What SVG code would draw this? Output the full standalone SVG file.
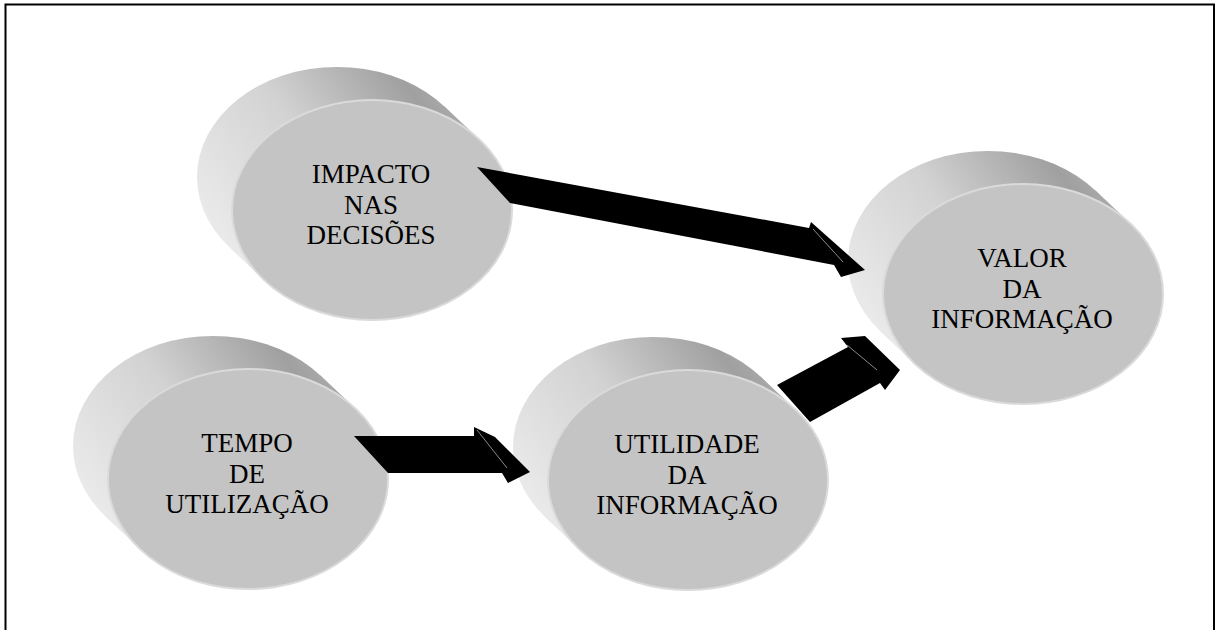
<svg xmlns="http://www.w3.org/2000/svg" width="1228" height="630" viewBox="0 0 1228 630">
<defs>
<linearGradient id="side" gradientUnits="userSpaceOnUse" x1="-150" y1="60" x2="110" y2="-130">
<stop offset="0" stop-color="#ededed"/>
<stop offset="0.45" stop-color="#d2d2d2"/>
<stop offset="0.8" stop-color="#a0a0a0"/>
<stop offset="1" stop-color="#b8b8b8"/>
</linearGradient>
<g id="cyl">
<ellipse cx="-35" cy="-33" rx="140" ry="110" fill="url(#side)"/>
<polygon points="107.5,-70.4 72.5,-103.4 -142.5,37.4 -107.5,70.4" fill="url(#side)"/>
<ellipse cx="0" cy="0" rx="140" ry="110" fill="#c4c4c4" stroke="#dadada" stroke-width="2"/>
</g>
</defs>
<style>
.lbl{font-size:27px;fill:#000;text-anchor:middle}
.arrow{fill:#000}
.hl{stroke:#8a8a8a;stroke-width:1;fill:none}
</style>
<path d="M5.5,630 V4.5 H1214 V630" fill="none" stroke="#000" stroke-width="2"/>
<g font-family="Liberation Serif, Times New Roman, serif">
<g id="node-impacto" transform="translate(372,210)">
<use href="#cyl"/>
<text class="lbl" x="-1" y="-27">IMPACTO</text>
<text class="lbl" x="-1" y="4">NAS</text>
<text class="lbl" x="-1" y="34">DECISÕES</text>
</g>
<g id="node-tempo" transform="translate(248,479)">
<use href="#cyl"/>
<text class="lbl" x="-1" y="-27">TEMPO</text>
<text class="lbl" x="-1" y="4">DE</text>
<text class="lbl" x="-1" y="34">UTILIZAÇÃO</text>
</g>
<g id="node-utilidade" transform="translate(688,480)">
<use href="#cyl"/>
<text class="lbl" x="-1" y="-27">UTILIDADE</text>
<text class="lbl" x="-1" y="4">DA</text>
<text class="lbl" x="-1" y="34">INFORMAÇÃO</text>
</g>
<g id="node-valor" transform="translate(1023,294)">
<use href="#cyl"/>
<text class="lbl" x="-1" y="-27">VALOR</text>
<text class="lbl" x="-1" y="4">DA</text>
<text class="lbl" x="-1" y="34">INFORMAÇÃO</text>
</g>
</g>
<g id="connectors">
<polygon class="arrow" points="477,167 809,228 811,222 865,270 841,277 834,265 510,203"/>
<line class="hl" x1="813" y1="229" x2="843" y2="262"/>
<polygon class="arrow" points="354,436 474,436 474,427 495,437 530,472 508,483 502,473 388,473"/>
<line class="hl" x1="477" y1="430" x2="507" y2="468"/>
<polygon class="arrow" points="777,385 848,347 841,338 865,336 900,370 885,390 880,383 810,422"/>
<line class="hl" x1="847" y1="345" x2="877" y2="370"/>
</g>
</svg>
